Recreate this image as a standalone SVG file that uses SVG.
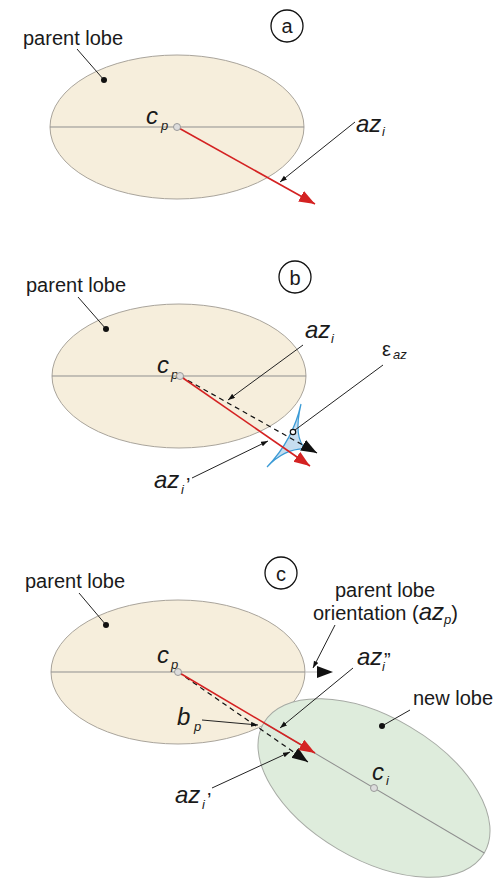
<svg xmlns="http://www.w3.org/2000/svg" width="500" height="879" viewBox="0 0 500 879">
<style>
.lobe{fill:#f6eedc;stroke:#a9a49b;stroke-width:1}
.newlobe{fill:#deecdc;stroke:#a6aaa4;stroke-width:1}
.axis{stroke:#8f8f8f;stroke-width:1;fill:none}
.lbl{font-family:"Liberation Sans",Arial,sans-serif;font-size:20px;fill:#1a1a1a}
.it{font-family:"Liberation Sans",Arial,sans-serif;font-style:italic;font-size:24px;fill:#1a1a1a}
.sub{font-family:"Liberation Sans",Arial,sans-serif;font-style:italic;font-size:13px;fill:#1a1a1a}
.lead{stroke:#222;stroke-width:1;fill:none}
.leadA{stroke:#222;stroke-width:1;fill:none;marker-end:url(#small)}
.red{stroke:#d42222;stroke-width:1.6;fill:none;marker-end:url(#redhead)}
.dash{stroke:#111;stroke-width:1.2;stroke-dasharray:5,4;fill:none;marker-end:url(#blackhead)}
.pt{fill:#dcdcdc;stroke:#9a9a9a;stroke-width:1}
.dot{fill:#111}
.tag{fill:#fff;stroke:#111;stroke-width:1.3}
</style>
<defs>
<marker id="redhead" markerUnits="userSpaceOnUse" markerWidth="17" markerHeight="13" refX="16" refY="6" orient="auto"><path d="M0,0 L16,6 L0,12 z" fill="#d42222"/></marker>
<marker id="blackhead" markerUnits="userSpaceOnUse" markerWidth="17" markerHeight="13" refX="16" refY="6" orient="auto"><path d="M0,0 L16,6 L0,12 z" fill="#111"/></marker>
<marker id="small" markerUnits="userSpaceOnUse" markerWidth="8" markerHeight="6" refX="7" refY="2.5" orient="auto"><path d="M0,0 L7,2.5 L0,5 z" fill="#111"/></marker>
</defs>

<!-- Panel a -->
<g id="panel-a">
  <g id="a-tag"><circle class="tag" cx="287" cy="26" r="16"/><text class="lbl" x="287" y="33" text-anchor="middle" font-size="22">a</text></g>
  <g id="a-parent-lobe">
    <ellipse class="lobe" cx="177" cy="127" rx="127" ry="72"/>
    <line class="axis" x1="50" y1="127" x2="304" y2="127"/>
  </g>
  <g id="a-label-parent"><text class="lbl" x="23" y="45">parent lobe</text></g>
  <g id="a-label-az"><text class="it" x="356" y="132">az</text><text class="sub" x="382" y="136">i</text></g>
  <g id="a-cp"><text class="it" x="146" y="124">c</text><text class="sub" x="161" y="130">p</text></g>
</g>

<!-- Panel b -->
<g id="panel-b">
  <g id="b-tag"><circle class="tag" cx="295" cy="277" r="16"/><text class="lbl" x="295" y="285" text-anchor="middle" font-size="22">b</text></g>
  <g id="b-parent-lobe">
    <ellipse class="lobe" cx="179" cy="376" rx="127" ry="72"/>
    <line class="axis" x1="52" y1="376" x2="306" y2="376"/>
  </g>
  <g id="b-error-cone">
    <path d="M301,404 Q293,440 267,467 Q285,448 306,449 Q293,438 301,404 Z" fill="#c6ddef" stroke="#3b9bd6" stroke-width="1.2"/>
  </g>
  <g id="b-label-parent"><text class="lbl" x="26" y="292">parent lobe</text></g>
  <g id="b-label-az"><text class="it" x="305" y="338">az</text><text class="sub" x="331" y="343">i</text></g>
  <g id="b-label-eps"><text class="lbl" x="382" y="356" font-size="23">ε</text><text class="sub" x="393" y="359">az</text></g>
  <g id="b-label-azp"><text class="it" x="154" y="488">az</text><text class="sub" x="181" y="494">i</text><text class="lbl" x="186" y="492">’</text></g>
  <g id="b-cp"><text class="it" x="157" y="373">c</text><text class="sub" x="171" y="379">p</text></g>
</g>

<!-- Panel c -->
<g id="panel-c">
  <g id="c-tag"><circle class="tag" cx="281" cy="573" r="16"/><text class="lbl" x="281" y="581" text-anchor="middle" font-size="22">c</text></g>
  <g id="c-parent-lobe">
    <ellipse class="lobe" cx="178" cy="672" rx="127" ry="72"/>
    <line class="axis" x1="51" y1="672" x2="305" y2="672"/>
  </g>
  <g id="c-new-lobe">
    <g transform="translate(374,788) rotate(30.5)">
      <ellipse class="newlobe" cx="0" cy="0" rx="128" ry="71"/>
      <line class="axis" x1="-128" y1="0" x2="128" y2="0"/>
    </g>
  </g>
  <g id="c-label-parent"><text class="lbl" x="25" y="588">parent lobe</text></g>
  <g id="c-label-orient">
    <text class="lbl" x="335" y="597">parent lobe</text>
    <text class="lbl" x="313" y="620">orientation (<tspan font-style="italic" font-size="24">az</tspan><tspan font-style="italic" font-size="13" dy="4">p</tspan><tspan dy="-4">)</tspan></text>
  </g>
  <g id="c-label-azpp"><text class="it" x="357" y="665">az</text><text class="sub" x="382" y="671">i</text><text class="lbl" x="384" y="667">”</text></g>
  <g id="c-label-new"><text class="lbl" x="413" y="705">new lobe</text></g>
  <g id="c-label-bp"><text class="it" x="177" y="725">b</text><text class="sub" x="194" y="731">p</text></g>
  <g id="c-label-azp"><text class="it" x="175" y="803">az</text><text class="sub" x="202" y="809">i</text><text class="lbl" x="207" y="807">’</text></g>
  <g id="c-cp"><text class="it" x="157" y="663">c</text><text class="sub" x="171" y="669">p</text></g>
  <g id="c-ci"><text class="it" x="372" y="780">c</text><text class="sub" x="386" y="785">i</text></g>
</g>

<!-- Connectors -->
<g id="connectors">
  <!-- panel a -->
  <line class="lead" x1="77" y1="49" x2="104" y2="80"/>
  <circle class="dot" cx="104" cy="80" r="3"/>
  <line class="red" x1="177" y1="127" x2="315" y2="204"/>
  <line class="leadA" x1="355" y1="122" x2="280" y2="182"/>
  <circle class="pt" cx="177" cy="127" r="3.5"/>
  <!-- panel b -->
  <line class="lead" x1="78" y1="297" x2="106" y2="329"/>
  <circle class="dot" cx="106" cy="329" r="3"/>
  <line class="dash" x1="180" y1="376" x2="317" y2="453"/>
  <line class="red" x1="180" y1="376" x2="310" y2="466"/>
  <line class="leadA" x1="303" y1="345" x2="228" y2="400"/>
  <line class="lead" x1="383" y1="365" x2="295" y2="430"/>
  <circle cx="293" cy="432" r="2.7" fill="#fff" stroke="#111" stroke-width="1.2"/>
  <line class="leadA" x1="192" y1="478" x2="268" y2="441"/>
  <circle class="pt" cx="180" cy="376" r="3.5"/>
  <!-- panel c -->
  <line class="lead" x1="79" y1="593" x2="106" y2="625"/>
  <circle class="dot" cx="106" cy="625" r="3"/>
  <line x1="305" y1="672" x2="322" y2="672" stroke="#c4c4c4" stroke-width="1.2"/>
  <path d="M317,666 L333,672 L317,678 z" fill="#111"/>
  <line class="leadA" x1="335" y1="625" x2="313" y2="668"/>
  <line class="dash" x1="178" y1="672" x2="308" y2="762"/>
  <line class="red" x1="178" y1="672" x2="315" y2="753"/>
  <line class="leadA" x1="353" y1="668" x2="280" y2="728"/>
  <line class="lead" x1="410" y1="710" x2="382" y2="726"/>
  <circle class="dot" cx="382" cy="726" r="3"/>
  <line class="leadA" x1="202" y1="720" x2="258" y2="725"/>
  <line class="leadA" x1="212" y1="788" x2="290" y2="752"/>
  <circle class="pt" cx="178" cy="672" r="3.5"/>
  <circle class="pt" cx="374" cy="788" r="3.5"/>
</g>
</svg>
